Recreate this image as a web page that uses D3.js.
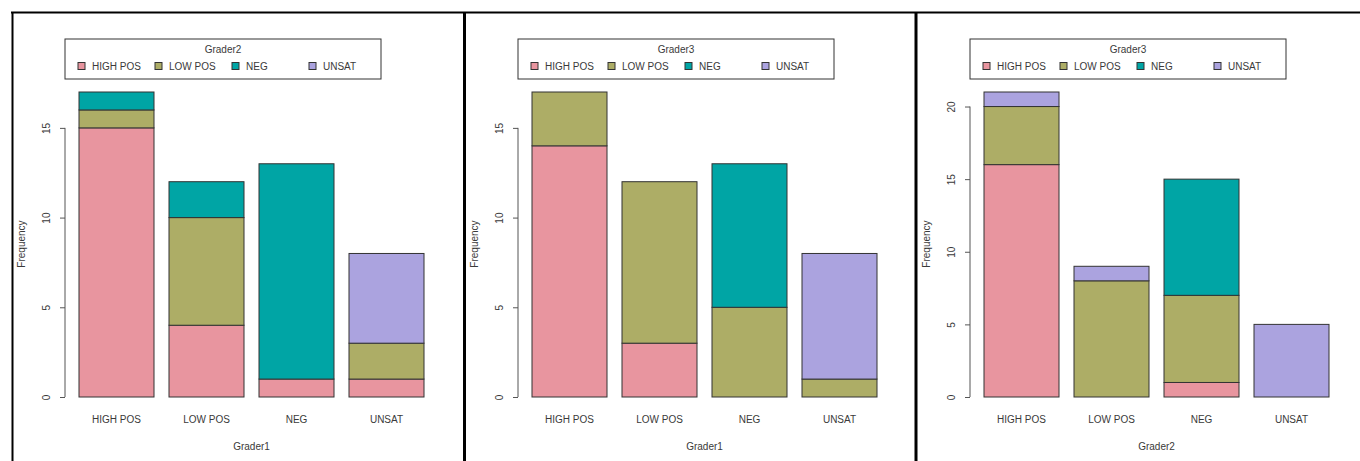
<!DOCTYPE html>
<html>
<head>
<meta charset="utf-8">
<script src="https://cdn.jsdelivr.net/npm/d3@7"></script>
<style>
  html, body { margin: 0; padding: 0; background: #fff; }
  svg { display: block; font-family: "Liberation Sans", Arial, sans-serif; }
</style>
</head>
<body>
<svg id="chart" width="1360" height="461"></svg>
<script>
// ---- data ----
const categories = ["HIGH POS", "LOW POS", "NEG", "UNSAT"];
const stackLevels = ["HIGH POS", "LOW POS", "NEG", "UNSAT"];
const levelColors = ["#E8959F", "#ADAD66", "#00A5A5", "#ABA3DF"];

// rows = x category, columns = stacked level
const p1Counts = [[15, 1, 1, 0], [4, 6, 2, 0], [1, 0, 12, 0], [1, 2, 0, 5]];
const p2Counts = [[14, 3, 0, 0], [3, 9, 0, 0], [0, 5, 8, 0], [0, 1, 0, 7]];
const p3Counts = [[16, 4, 0, 1], [0, 8, 0, 1], [1, 6, 8, 0], [0, 0, 0, 5]];

const p1Ticks = [0, 5, 10, 15];
const p2Ticks = [0, 5, 10, 15];
const p3Ticks = [0, 5, 10, 15, 20];

const xTitles = ["Grader1", "Grader1", "Grader2"];
const legendTitles = ["Grader2", "Grader3", "Grader3"];
const yTitle = "Frequency";

// ---- drawing ----
const svg = d3.select("#chart");
const panelLefts = [12, 465, 917];
const panels = [
  { counts: p1Counts, ticks: p1Ticks },
  { counts: p2Counts, ticks: p2Ticks },
  { counts: p3Counts, ticks: p3Ticks }
];
const textCol = "#3a3a3a";

panels.forEach((p, i) => {
  const L = panelLefts[i];
  const g = svg.append("g");

  const x = d3.scaleBand()
    .domain(categories)
    .range([L + 59.5, L + 419.5])
    .paddingInner(1 / 6)
    .paddingOuter(1 / 12);

  const totals = p.counts.map(r => d3.sum(r));
  const yMax = d3.max(totals);
  const y = d3.scaleLinear().domain([0, yMax]).range([397, 92]);

  const rows = p.counts.map((r, ci) => {
    const o = { cat: categories[ci] };
    stackLevels.forEach((lv, k) => { o[lv] = r[k]; });
    return o;
  });
  const series = d3.stack().keys(stackLevels)(rows);

  series.forEach((s, k) => {
    g.selectAll(null).data(s).enter().append("rect")
      .attr("x", d => x(d.data.cat))
      .attr("width", x.bandwidth())
      .attr("y", d => y(d[1]))
      .attr("height", d => y(d[0]) - y(d[1]))
      .attr("fill", levelColors[k])
      .attr("stroke", "#333")
      .attr("stroke-width", 1);
  });

  // y axis (R style)
  const axisX = L + 53;
  const yAxis = d3.axisLeft(y).tickValues(p.ticks).tickSize(5).tickSizeOuter(0).tickFormat(d3.format("d"));
  const ag = g.append("g").attr("transform", `translate(${axisX},0)`).call(yAxis);
  ag.select(".domain").remove();
  ag.append("line")
    .attr("x1", 0).attr("x2", 0)
    .attr("y1", y(p.ticks[0])).attr("y2", y(p.ticks[p.ticks.length - 1]))
    .attr("stroke", "#555");
  ag.selectAll(".tick line").attr("stroke", "#555");
  ag.selectAll(".tick text").remove();
  ag.selectAll(".tick").append("text")
    .attr("transform", "translate(-15,0) rotate(-90)")
    .attr("text-anchor", "middle")
    .attr("dy", "0")
    .attr("fill", textCol)
    .attr("font-size", 10)
    .style("font-family", "'Liberation Sans', Arial, sans-serif")
    .text(d => d);

  // y title
  g.append("text")
    .attr("transform", `translate(${L + 13},244) rotate(-90)`)
    .attr("text-anchor", "middle")
    .attr("font-size", 10)
    .attr("fill", textCol)
    .text(yTitle);

  // x category labels
  g.selectAll(null).data(categories).enter().append("text")
    .attr("x", d => x(d) + x.bandwidth() / 2)
    .attr("y", 423)
    .attr("text-anchor", "middle")
    .attr("font-size", 10)
    .attr("fill", textCol)
    .text(d => d);

  // x title
  g.append("text")
    .attr("x", (x(categories[0]) + x(categories[3]) + x.bandwidth()) / 2)
    .attr("y", 450)
    .attr("text-anchor", "middle")
    .attr("font-size", 10)
    .attr("fill", textCol)
    .text(xTitles[i]);

  // legend
  const bx = L + 53, by = 39, bw = 316, bh = 40;
  g.append("rect")
    .attr("x", bx).attr("y", by).attr("width", bw).attr("height", bh)
    .attr("fill", "#fff").attr("stroke", "#333").attr("stroke-width", 1);
  g.append("text")
    .attr("x", bx + bw / 2).attr("y", 53)
    .attr("text-anchor", "middle")
    .attr("font-size", 10)
    .attr("fill", textCol)
    .text(legendTitles[i]);
  const itemOffsets = [13, 90, 167, 244];
  stackLevels.forEach((lv, k) => {
    g.append("rect")
      .attr("x", bx + itemOffsets[k]).attr("y", 62.5)
      .attr("width", 7).attr("height", 7)
      .attr("fill", levelColors[k]).attr("stroke", "#333").attr("stroke-width", 1);
    g.append("text")
      .attr("x", bx + itemOffsets[k] + 14).attr("y", 70)
      .attr("font-size", 10)
      .attr("fill", textCol)
      .text(lv);
  });
});

// panel frames
svg.append("line").attr("x1", 11).attr("x2", 1360).attr("y1", 12.5).attr("y2", 12.5)
  .attr("stroke", "#000").attr("stroke-width", 2);
svg.append("line").attr("x1", 12.5).attr("x2", 12.5).attr("y1", 12).attr("y2", 461)
  .attr("stroke", "#000").attr("stroke-width", 2);
[464.5, 916].forEach(xx => {
  svg.append("line").attr("x1", xx).attr("x2", xx).attr("y1", 12).attr("y2", 461)
    .attr("stroke", "#000").attr("stroke-width", 3);
});
</script>
</body>
</html>
